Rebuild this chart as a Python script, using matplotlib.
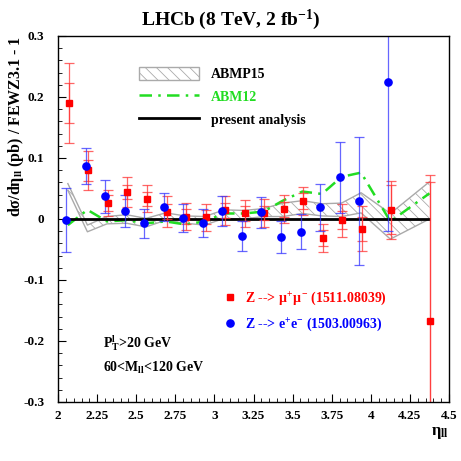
import matplotlib
matplotlib.use('Agg')
import matplotlib.pyplot as plt
import numpy as np
from matplotlib.patches import Patch
from matplotlib.lines import Line2D
from matplotlib.ticker import MultipleLocator

plt.rcParams['font.family'] = ['Liberation Serif', 'DejaVu Serif']
plt.rcParams['font.weight'] = 'bold'
plt.rcParams['mathtext.fontset'] = 'custom'
plt.rcParams['mathtext.rm'] = 'Liberation Serif:bold'
plt.rcParams['mathtext.it'] = 'Liberation Serif:bold'
plt.rcParams['mathtext.bf'] = 'Liberation Serif:bold'
plt.rcParams['hatch.color'] = '#999999'
plt.rcParams['hatch.linewidth'] = 0.6

# bin centres (muon: 18 bins, electron: 17 bins)
eta_mu = [2.0625, 2.1875, 2.3125, 2.4375, 2.5625, 2.6875, 2.8125, 2.9375, 3.0625,
          3.1875, 3.3125, 3.4375, 3.5625, 3.6875, 3.8125, 3.9375, 4.125, 4.375]
eta_e = eta_mu[:17]

# Z -> mu mu (1511.08039)
mu_val = [0.190, 0.080, 0.026, 0.044, 0.033, 0.012, 0.004, 0.003, 0.014,
          0.009, 0.010, 0.016, 0.030, -0.031, -0.002, -0.016, 0.015, -0.168]
mu_tot = [0.065, 0.032, 0.021, 0.024, 0.022, 0.025, 0.022, 0.022, 0.024,
          0.022, 0.023, 0.023, 0.023, 0.023, 0.027, 0.037, 0.048, 0.240]
mu_stat = [0.033, 0.017, 0.013, 0.012, 0.011, 0.012, 0.012, 0.012, 0.012,
           0.012, 0.012, 0.012, 0.013, 0.013, 0.015, 0.020, 0.040, 0.228]

# Z -> e e (1503.00963)
e_val = [-0.002, 0.087, 0.037, 0.013, -0.007, 0.019, 0.001, -0.006, 0.013,
         -0.028, 0.011, -0.030, -0.021, 0.019, 0.068, 0.030, 0.225]
e_err = [0.052, 0.029, 0.027, 0.026, 0.024, 0.023, 0.023, 0.023, 0.024,
         0.024, 0.025, 0.026, 0.029, 0.038, 0.058, 0.105, 0.245]

# ABM12 prediction
abm12 = [-0.010, 0.015, -0.004, -0.002, -0.007, -0.004, -0.009, -0.004, 0.009,
         0.009, 0.012, 0.030, 0.045, 0.041, 0.069, 0.076, -0.004, 0.042]

# ABMP15 band
abmp15_hi = [0.058, -0.010, 0.004, 0.007, 0.001, 0.010, 0.005, 0.004, 0.015,
             0.014, 0.017, 0.026, 0.030, 0.025, 0.026, 0.043, 0.009, 0.061]
abmp15_lo = [0.047, -0.021, -0.008, -0.007, -0.013, -0.002, -0.007, -0.010, 0.001,
             0.000, 0.004, 0.004, 0.009, 0.005, 0.004, 0.010, -0.033, 0.000]

present = [0.0] * len(eta_mu)

fig = plt.figure(figsize=(4.61, 4.61), dpi=100)
ax = fig.add_axes([0.126, 0.128, 0.848, 0.794])

ax.fill_between(eta_mu, abmp15_lo, abmp15_hi, facecolor='none', edgecolor='#aaaaaa',
                hatch='\\\\\\', linewidth=0)
ax.plot(eta_mu, abmp15_hi, color='#aaaaaa', lw=1.0)
ax.plot(eta_mu, abmp15_lo, color='#aaaaaa', lw=1.0)
ax.plot(eta_mu, abm12, color='#22dd22', lw=1.8, linestyle=(0, (5, 2.5, 1, 2.5)))
ax.plot(eta_mu, present, color='black', lw=2.0)

# data: small offsets so the two sets do not overlap
x_mu = np.array(eta_mu) + 0.006
x_e = np.array(eta_e) - 0.012
ax.errorbar(x_mu, mu_val, yerr=mu_tot, fmt='none', ecolor='#ff3333', elinewidth=0.9,
            capsize=3.5, capthick=0.9, alpha=0.75)
ax.errorbar(x_mu, mu_val, yerr=mu_stat, fmt='none', ecolor='#ff3333', elinewidth=0.9,
            capsize=3.5, capthick=0.9, alpha=0.75)
ax.plot(x_mu, mu_val, 's', color='red', ms=4.8, zorder=5)
ax.errorbar(x_e, e_val, yerr=e_err, fmt='none', ecolor='#3333ff', elinewidth=0.9,
            capsize=3.5, capthick=0.9, alpha=0.75)
ax.plot(x_e, e_val, 'o', color='blue', ms=5.2, zorder=5)

ax.set_xlim(2.0, 4.5)
ax.set_ylim(-0.3, 0.3)
ax.xaxis.set_minor_locator(MultipleLocator(0.05))
ax.yaxis.set_minor_locator(MultipleLocator(0.02))
ax.set_xticks([2, 2.25, 2.5, 2.75, 3, 3.25, 3.5, 3.75, 4, 4.25, 4.5])
ax.set_xticklabels(['2', '2.25', '2.5', '2.75', '3', '3.25', '3.5', '3.75', '4', '4.25', '4.5'])
ax.set_yticks([-0.3, -0.2, -0.1, 0, 0.1, 0.2, 0.3])
ax.set_yticklabels(['-0.3', '-0.2', '-0.1', '0', '0.1', '0.2', '0.3'])
ax.tick_params(which='both', direction='in', top=False, right=False, labelsize=9.5)
ax.tick_params(which='major', length=6)
ax.tick_params(which='minor', length=3)
ax.tick_params(axis='y', pad=10)
ax.tick_params(axis='x', pad=6)
for s in ax.spines.values():
    s.set_linewidth(1.0)

fig.text(0.5, 0.957, 'LHCb (8 TeV, 2 fb$^{-1}$)', ha='center', va='center',
         fontsize=14, fontweight='bold')
fig.text(0.035, 0.922, 'd$\\sigma$/d$\\eta_{ll}$ (pb) / FEWZ3.1 - 1', rotation=90,
         ha='center', va='top', fontsize=11.5, fontweight='bold')
fig.text(0.955, 0.06, '$\\eta_{ll}$', ha='center', va='center', fontsize=12)

h1 = [Patch(facecolor='none', edgecolor='#aaaaaa', hatch='\\\\\\'),
      Line2D([], [], color='#22dd22', lw=1.8, linestyle=(0, (5, 2.5, 1, 2.5))),
      Line2D([], [], color='black', lw=2.0)]
leg1 = ax.legend(h1, ['ABMP15', 'ABM12', 'present analysis'], loc='upper left',
                 bbox_to_anchor=(0.175, 0.95), frameon=False, fontsize=10,
                 handlelength=4.3, handleheight=1.1, handletextpad=0.9, labelspacing=0.6)
leg1.get_texts()[1].set_color('#22dd22')
ax.add_artist(leg1)

h2 = [Line2D([], [], marker='s', color='red', ls='none', ms=4.8),
      Line2D([], [], marker='o', color='blue', ls='none', ms=5.2)]
leg2 = ax.legend(h2, ['Z --> $\\mu^{+}\\mu^{-}$ (1511.08039)', 'Z --> e$^{+}$e$^{-}$ (1503.00963)'],
                 loc='upper left', bbox_to_anchor=(0.39, 0.34), frameon=False, fontsize=10,
                 handlelength=1.0, handletextpad=0.6, labelspacing=0.6)
leg2.get_texts()[0].set_color('red')
leg2.get_texts()[1].set_color('blue')

ax.text(0.115, 0.161, '$\\mathrm{P_T^l}$>20 GeV', transform=ax.transAxes,
        ha='left', va='center', fontsize=10)
ax.text(0.115, 0.093, '60<M$_{\\mathrm{ll}}$<120 GeV', transform=ax.transAxes,
        ha='left', va='center', fontsize=10)

fig.savefig('out.png', dpi=100)
